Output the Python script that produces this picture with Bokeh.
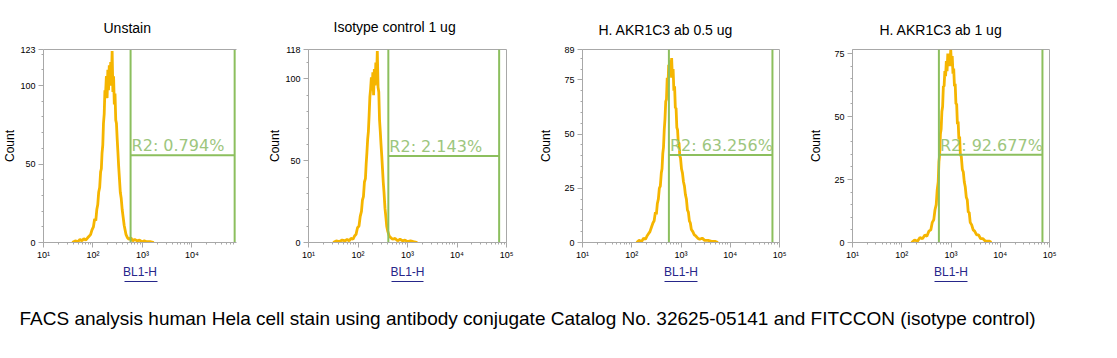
import math
from bokeh.plotting import figure
from bokeh.models import Range1d, FixedTicker, Label, LogAxis, ColumnDataSource
from bokeh.layouts import row, column
from bokeh.embed import file_html
from bokeh.resources import INLINE
from bokeh.core.properties import value

# ---------------- data ----------------
titles = ["Unstain", "Isotype control 1 ug", "H. AKR1C3 ab 0.5 ug", "H. AKR1C3 ab 1 ug"]
x_label = "BL1-H"
y_label = "Count"
caption = ("FACS analysis human Hela cell stain using antibody conjugate Catalog No. "
           "32625-05141 and FITCCON (isotype control)")

y_max = [123, 118, 89, 76.6]
y_ticks = [[0, 50, 100, 123], [0, 50, 100, 118], [0, 25, 50, 75, 89], [0, 25, 50, 75]]
y_minor_step = [10, 10, 5, 5]
x_ticks = [10, 100, 1000, 10000, 100000]
x_tick_labels = ["10\u00b9", "10\u00b2", "10\u00b3", "10\u2074", "10\u2075"]

gate_lo = [575, 410, 568, 568]
gate_hi = [72900, 71000, 71900, 71900]
gate_y = [55.6, 52.9, 40.3, 34.8]
gate_pct = ["0.794", "2.143", "63.256", "92.677"]

# histograms: log10(BL1-H) bin position and count
p1_log = [1.582, 1.640, 1.698, 1.737, 1.776, 1.815, 1.854, 1.892, 1.921, 1.951,
          1.980, 2.009, 2.033, 2.057, 2.077, 2.096, 2.115, 2.135, 2.154, 2.169,
          2.183, 2.198, 2.212, 2.227, 2.241, 2.256, 2.271, 2.285, 2.300, 2.314,
          2.329, 2.343, 2.358, 2.373, 2.387, 2.402, 2.416, 2.431, 2.445, 2.460,
          2.474, 2.489, 2.503, 2.518, 2.532, 2.552, 2.571, 2.590, 2.610, 2.630,
          2.649, 2.668, 2.698, 2.727, 2.765, 2.804, 2.843, 2.891, 2.940, 2.989,
          3.037, 3.086, 3.153, 3.231]
p1_cnt = [0, 1, 0.5, 2, 1, 2.5, 1.5, 3, 4, 5,
          8, 10, 15, 14, 21, 24, 32, 35, 45, 47,
          57, 62, 76, 82, 97, 96, 106, 92, 110, 97,
          113, 100, 115, 104, 122, 96, 106, 88, 95, 78,
          76, 66, 58, 49, 42, 32, 28, 21, 16, 11,
          8, 5, 3, 2, 3, 1, 2, 1, 1.5, 0.5,
          1, 0.5, 0.5, 0]

p2_log = [1.50, 1.56, 1.62, 1.68, 1.74, 1.78, 1.82, 1.86, 1.90, 1.93,
          1.96, 1.99, 2.02, 2.045, 2.07, 2.09, 2.11, 2.13, 2.15, 2.165,
          2.18, 2.195, 2.21, 2.225, 2.24, 2.255, 2.27, 2.285, 2.30, 2.315,
          2.33, 2.345, 2.36, 2.375, 2.39, 2.405, 2.42, 2.435, 2.45, 2.465,
          2.48, 2.495, 2.51, 2.525, 2.545, 2.565, 2.58, 2.60, 2.63, 2.66,
          2.70, 2.75, 2.80, 2.85, 2.90, 2.95, 3.00, 3.06, 3.12, 3.20]
p2_cnt = [0, 1, 0.5, 1.5, 1, 2, 1, 2.5, 2, 4,
          5, 9, 10, 16, 19, 26, 28, 37, 39, 48,
          55, 63, 68, 78, 89, 94, 101, 93, 104, 90,
          106, 96, 110, 100, 117, 95, 92, 75, 68, 60,
          53, 45, 37, 31, 21, 15, 10, 7, 4, 3,
          2, 2.5, 1, 2, 1, 1.5, 0.5, 1, 0.5, 0]

p3_log = [2.10, 2.15, 2.20, 2.24, 2.28, 2.31, 2.34, 2.37, 2.40, 2.43,
          2.455, 2.48, 2.50, 2.52, 2.54, 2.56, 2.58, 2.60, 2.615, 2.63,
          2.645, 2.66, 2.675, 2.69, 2.705, 2.72, 2.735, 2.75, 2.765, 2.78,
          2.795, 2.81, 2.825, 2.84, 2.855, 2.87, 2.885, 2.90, 2.915, 2.93,
          2.945, 2.96, 2.975, 2.99, 3.01, 3.03, 3.05, 3.07, 3.09, 3.11,
          3.13, 3.15, 3.17, 3.19, 3.21, 3.24, 3.27, 3.30, 3.34, 3.38,
          3.43, 3.48, 3.55, 3.62, 3.70, 3.75]
p3_cnt = [0, 1, 0.5, 2, 1.5, 3, 4, 5, 7, 9,
          10, 14, 13, 18, 20, 25, 26, 32, 34, 41,
          44, 52, 57, 65, 66, 76, 72, 82, 76, 84,
          78, 85, 76, 80, 70, 72, 62, 62, 53, 52,
          46, 46, 40, 39, 34, 32, 28, 26, 22, 20,
          15, 14, 10, 9, 6, 5, 3.5, 3, 2, 1.5,
          2, 1, 1, 0.5, 0.5, 0]

p4_log = [2.20, 2.26, 2.32, 2.37, 2.42, 2.47, 2.51, 2.55, 2.59, 2.62,
          2.65, 2.675, 2.70, 2.72, 2.74, 2.755, 2.77, 2.785, 2.80, 2.815,
          2.83, 2.845, 2.86, 2.875, 2.89, 2.905, 2.92, 2.935, 2.95, 2.965,
          2.98, 2.995, 3.01, 3.025, 3.04, 3.055, 3.07, 3.085, 3.10, 3.115,
          3.13, 3.145, 3.16, 3.175, 3.19, 3.21, 3.23, 3.25, 3.27, 3.29,
          3.31, 3.33, 3.35, 3.37, 3.39, 3.42, 3.45, 3.48, 3.52, 3.56,
          3.60, 3.65, 3.70, 3.78, 3.82]
p4_cnt = [0, 1, 0.5, 2, 1.5, 3, 2.5, 4.5, 5, 8,
          9, 13, 15, 21, 24, 32, 35, 43, 45, 52,
          54, 62, 62, 68, 66, 72, 68, 75, 70, 74,
          71, 76.5, 70, 74, 67, 69, 62, 63, 55, 55,
          47, 48, 41, 42, 35, 34, 29, 28, 24, 22,
          18, 17, 12, 12, 8, 7, 5, 4.5, 3, 3,
          1.5, 1.5, 0.5, 0.5, 0]

hist_log = [p1_log, p2_log, p3_log, p4_log]
hist_cnt = [p1_cnt, p2_cnt, p3_cnt, p4_cnt]

# ---------------- layout / style ----------------
FIG_W = [265, 271, 270, 294]
FIG_H = 290
BL = [43, 43, 45, 45]
FRAME_W = [193, 198, 198, 198]
BT = [46, 45, 49, 49]
FRAME_H = 197
X_END = [10 ** 4.9, 1e5, 1e5, 1e5]
TITLE_LEFT = [60, 25, 16, 27]
TITLE_STANDOFF = [27, 29, 24, 23]
YLAB_STANDOFF = [0, 0, 8, 8]
ULINE_CENTER_LOG = [2.97, 3.0, 3.0, 3.0]
ULINE_HALF = 0.333

AX_GRAY = "#A8A8A8"
HIST_COL = "#F5B500"
GATE_COL = "#8CBF5E"
GATE_TXT = "#9DC67E"
NAVY = "#26268A"

figs = []
for i in range(4):
    br = FIG_W[i] - BL[i] - FRAME_W[i]
    bb = FIG_H - BT[i] - FRAME_H
    p = figure(width=FIG_W[i], height=FIG_H, x_axis_type="log",
               x_range=Range1d(10, X_END[i]), y_range=Range1d(0, y_max[i]),
               output_backend="svg", toolbar_location=None,
               min_border_left=BL[i], min_border_right=br,
               min_border_top=BT[i], min_border_bottom=bb,
               title=titles[i])
    p.title.align = "left"
    p.title.offset = TITLE_LEFT[i]
    p.title.text_font = "Liberation Sans"
    p.title.text_font_size = "14px"
    p.title.text_font_style = "normal"
    p.title.text_color = "#000000"
    p.title.standoff = TITLE_STANDOFF[i]
    p.xgrid.visible = False
    p.ygrid.visible = False
    p.background_fill_color = "white"
    p.border_fill_color = "white"

    minors = [m * d for d in [10, 100, 1000, 10000] for m in range(2, 10)]
    p.xaxis.ticker = FixedTicker(ticks=x_ticks, minor_ticks=minors)
    p.xaxis.major_label_overrides = {t: lab for t, lab in zip(x_ticks, x_tick_labels)}
    ymin_ticks = [k * y_minor_step[i] for k in range(0, int(y_max[i] // y_minor_step[i]) + 1)]
    p.yaxis.ticker = FixedTicker(ticks=y_ticks[i], minor_ticks=ymin_ticks)

    for ax in (p.xaxis[0], p.yaxis[0]):
        ax.axis_line_color = AX_GRAY
        ax.major_tick_line_color = AX_GRAY
        ax.minor_tick_line_color = AX_GRAY
        ax.major_tick_out = 5
        ax.major_tick_in = 0
        ax.minor_tick_out = 2
        ax.minor_tick_in = 0
        ax.major_label_text_font = "Liberation Sans"
        ax.major_label_text_font_size = "9px"
        ax.major_label_text_color = "#000000"
        ax.major_label_standoff = 2
        ax.axis_label_text_font = "Liberation Sans"
        ax.axis_label_text_font_size = "12px"
        ax.axis_label_text_font_style = "normal"

    p.yaxis.major_label_standoff = 3
    p.xaxis.major_label_text_align = "right"
    p.yaxis.axis_label = y_label
    p.yaxis.axis_label_text_color = "#000000"
    p.yaxis.axis_label_standoff = YLAB_STANDOFF[i]
    p.xaxis.axis_label = x_label
    p.xaxis.axis_label_text_color = NAVY
    p.xaxis.axis_label_standoff = 2

    # underline of the x-axis label: a short navy axis line below it
    c = ULINE_CENTER_LOG[i]
    uline = LogAxis(ticker=FixedTicker(ticks=[]), bounds=(10 ** (c - ULINE_HALF), 10 ** (c + ULINE_HALF)),
                    axis_line_color=NAVY, axis_line_width=1,
                    major_tick_line_color=None, minor_tick_line_color=None,
                    major_label_text_font_size="0px", major_tick_out=0, major_tick_in=0,
                    major_label_standoff=0)
    p.add_layout(uline, "below")

    if i == 0:
        p.outline_line_color = None
        top = LogAxis(ticker=FixedTicker(ticks=[]), axis_line_color=AX_GRAY,
                      major_tick_line_color=None, minor_tick_line_color=None,
                      major_label_text_font_size="0px", major_tick_out=0, major_tick_in=0,
                      major_label_standoff=0)
        p.add_layout(top, "above")
    else:
        p.outline_line_color = AX_GRAY

    # histogram
    src = ColumnDataSource(dict(x=[10 ** v for v in hist_log[i]], y=hist_cnt[i]))
    p.line("x", "y", source=src, line_color=HIST_COL, line_width=2.8)

    # gate
    p.segment(x0=[gate_lo[i], gate_hi[i], gate_lo[i]], y0=[0, 0, gate_y[i]],
              x1=[gate_lo[i], gate_hi[i], gate_hi[i]], y1=[y_max[i], y_max[i], gate_y[i]],
              line_color=GATE_COL, line_width=2)
    p.text(x=[gate_lo[i]], y=[gate_y[i]], text=["R2: " + gate_pct[i] + "%"],
           text_font=value("DejaVu Sans"), text_font_size="16px",
           text_color=GATE_TXT, text_baseline="bottom", text_align="left",
           x_offset=1)
    figs.append(p)

cap = figure(width=1101, height=60, x_range=(0, 1), y_range=(0, 1),
             x_axis_location=None, y_axis_location=None, toolbar_location=None,
             output_backend="svg", min_border=0, outline_line_color=None)
cap.xgrid.visible = False
cap.ygrid.visible = False
cap.add_layout(Label(x=19, y=32, x_units="screen", y_units="screen", text=caption,
                     text_baseline="middle", text_align="left",
                     text_font="Liberation Sans", text_font_size="19px",
                     text_color="#000000"))

layout = column(row(*figs, spacing=0), cap, spacing=0)
open("out.html", "w").write(file_html(layout, INLINE))
